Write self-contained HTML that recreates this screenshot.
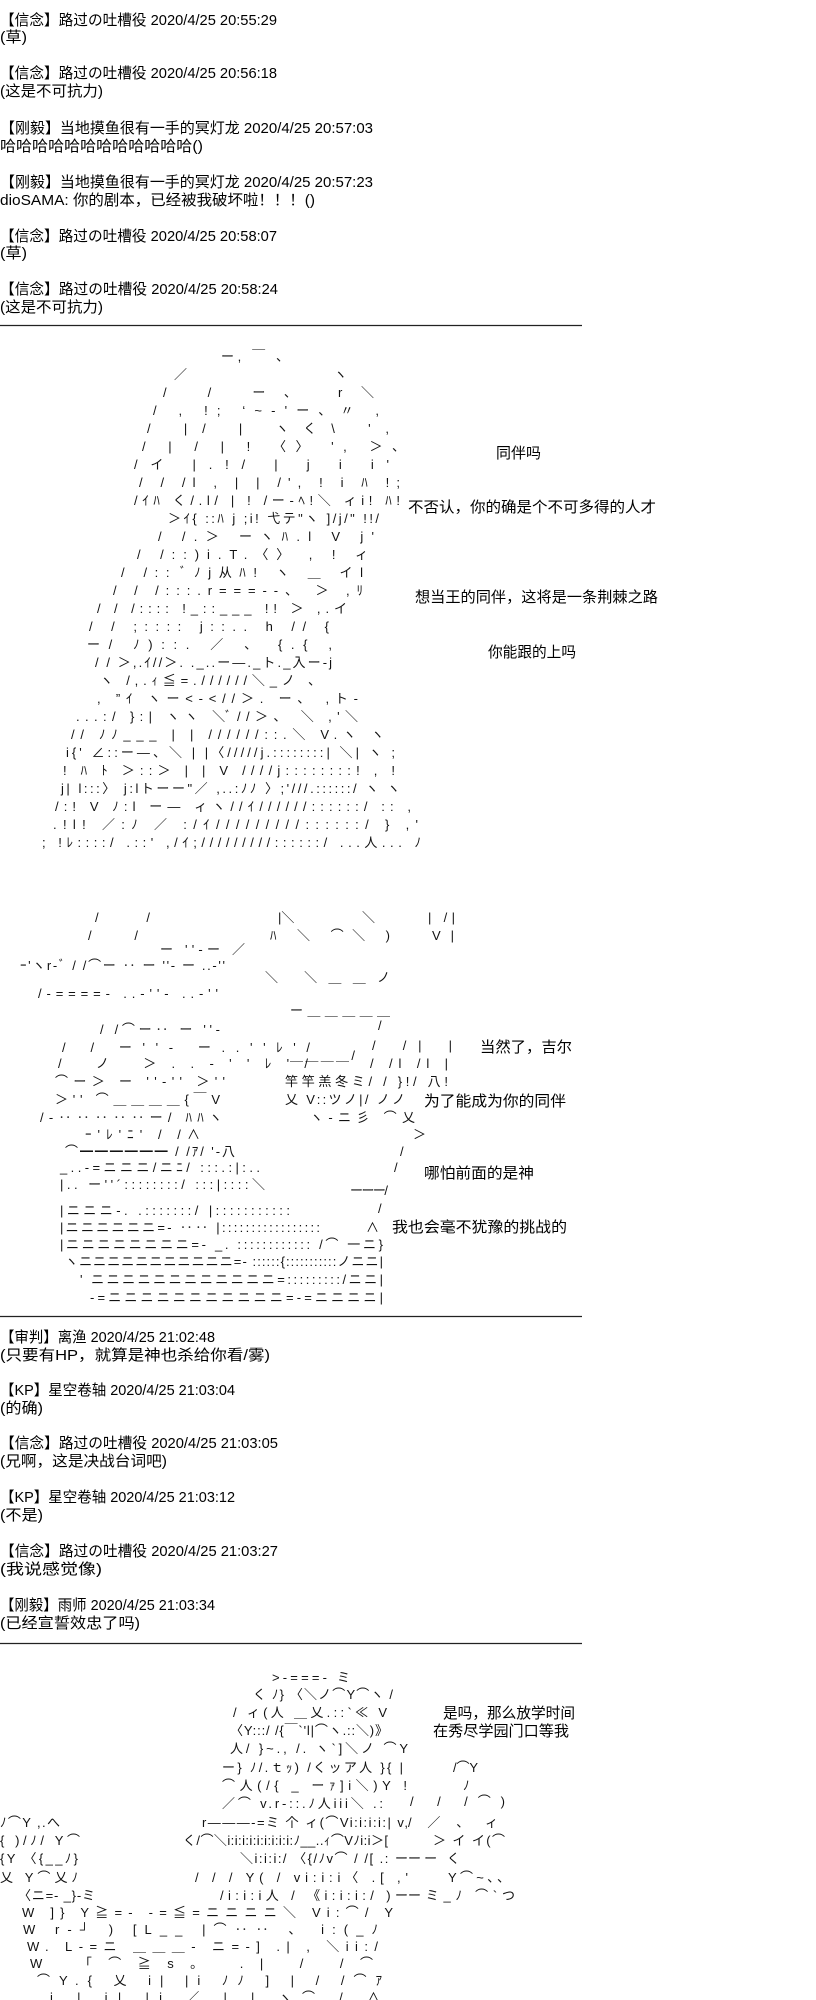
<!DOCTYPE html>
<html><head><meta charset="utf-8">
<style>
html,body{margin:0;padding:0;background:#fff;width:816px;height:2000px;overflow:hidden}
svg{display:block}
.t{font-family:"Liberation Sans","Noto Sans CJK SC",sans-serif;font-size:15px;fill:#000}
.a{font-family:"Liberation Sans","Noto Sans CJK JP",sans-serif;font-size:13px;fill:#111;white-space:pre}
</style></head><body>
<svg width="816" height="2000" viewBox="0 0 816 2000" xmlns="http://www.w3.org/2000/svg" xml:space="preserve">
<g class="t">
<text x="0" y="25" textLength="277" lengthAdjust="spacingAndGlyphs">【信念】路过の吐槽役 2020/4/25 20:55:29</text>
<text x="0" y="42" textLength="27" lengthAdjust="spacingAndGlyphs">(草)</text>
<text x="0" y="78" textLength="277" lengthAdjust="spacingAndGlyphs">【信念】路过の吐槽役 2020/4/25 20:56:18</text>
<text x="0" y="96" textLength="103" lengthAdjust="spacingAndGlyphs">(这是不可抗力)</text>
<text x="0" y="133" textLength="373" lengthAdjust="spacingAndGlyphs">【刚毅】当地摸鱼很有一手的冥灯龙 2020/4/25 20:57:03</text>
<text x="0" y="151" textLength="203" lengthAdjust="spacingAndGlyphs">哈哈哈哈哈哈哈哈哈哈哈哈()</text>
<text x="0" y="187" textLength="373" lengthAdjust="spacingAndGlyphs">【刚毅】当地摸鱼很有一手的冥灯龙 2020/4/25 20:57:23</text>
<text x="0" y="205" textLength="315" lengthAdjust="spacingAndGlyphs">dioSAMA: 你的剧本，已经被我破坏啦！！！()</text>
<text x="0" y="241" textLength="277" lengthAdjust="spacingAndGlyphs">【信念】路过の吐槽役 2020/4/25 20:58:07</text>
<text x="0" y="258" textLength="27" lengthAdjust="spacingAndGlyphs">(草)</text>
<text x="0" y="294" textLength="278" lengthAdjust="spacingAndGlyphs">【信念】路过の吐槽役 2020/4/25 20:58:24</text>
<text x="0" y="312" textLength="103" lengthAdjust="spacingAndGlyphs">(这是不可抗力)</text>

<text x="496" y="458">同伴吗</text>
<text x="408" y="512" textLength="248" lengthAdjust="spacingAndGlyphs">不否认，你的确是个不可多得的人才</text>
<text x="415" y="602" textLength="243" lengthAdjust="spacingAndGlyphs">想当王的同伴，这将是一条荆棘之路</text>
<text x="488" y="657" textLength="88" lengthAdjust="spacingAndGlyphs">你能跟的上吗</text>

<text x="480" y="1052" textLength="92" lengthAdjust="spacingAndGlyphs">当然了，吉尔</text>
<text x="424" y="1106" textLength="142" lengthAdjust="spacingAndGlyphs">为了能成为你的同伴</text>
<text x="424" y="1178" textLength="110" lengthAdjust="spacingAndGlyphs">哪怕前面的是神</text>
<text x="392" y="1232" textLength="175" lengthAdjust="spacingAndGlyphs">我也会毫不犹豫的挑战的</text>

<text x="0" y="1342" textLength="215" lengthAdjust="spacingAndGlyphs">【审判】离渔 2020/4/25 21:02:48</text>
<text x="0" y="1360" textLength="270" lengthAdjust="spacingAndGlyphs">(只要有HP，就算是神也杀给你看/雾)</text>
<text x="0" y="1395" textLength="235" lengthAdjust="spacingAndGlyphs">【KP】星空卷轴 2020/4/25 21:03:04</text>
<text x="0" y="1413" textLength="43" lengthAdjust="spacingAndGlyphs">(的确)</text>
<text x="0" y="1448" textLength="278" lengthAdjust="spacingAndGlyphs">【信念】路过の吐槽役 2020/4/25 21:03:05</text>
<text x="0" y="1466" textLength="167" lengthAdjust="spacingAndGlyphs">(兄啊，这是决战台词吧)</text>
<text x="0" y="1502" textLength="235" lengthAdjust="spacingAndGlyphs">【KP】星空卷轴 2020/4/25 21:03:12</text>
<text x="0" y="1520" textLength="43" lengthAdjust="spacingAndGlyphs">(不是)</text>
<text x="0" y="1556" textLength="278" lengthAdjust="spacingAndGlyphs">【信念】路过の吐槽役 2020/4/25 21:03:27</text>
<text x="0" y="1574" textLength="102" lengthAdjust="spacingAndGlyphs">(我说感觉像)</text>
<text x="0" y="1610" textLength="215" lengthAdjust="spacingAndGlyphs">【刚毅】雨师 2020/4/25 21:03:34</text>
<text x="0" y="1628" textLength="140" lengthAdjust="spacingAndGlyphs">(已经宣誓效忠了吗)</text>

<text x="443" y="1718" textLength="132" lengthAdjust="spacingAndGlyphs">是吗，那么放学时间</text>
<text x="433" y="1736" textLength="136" lengthAdjust="spacingAndGlyphs">在秀尽学园门口等我</text>
</g>

<g stroke="#222" stroke-width="1.2">
<line x1="0" y1="325.5" x2="582" y2="325.5"/>
<line x1="0" y1="1316.5" x2="582" y2="1316.5"/>
<line x1="0" y1="1643.5" x2="582" y2="1643.5"/>
</g>

<!-- ART 1 -->
<g class="a">
<text x="221" y="361" textLength="68" lengthAdjust="spacing">ー, ￣ 、</text>
<text x="174" y="379" textLength="173" lengthAdjust="spacing">／                          ヽ</text>
<text x="163" y="397" textLength="211" lengthAdjust="spacing">/    /            ー、      r＼</text>
<text x="153" y="415" textLength="226" lengthAdjust="spacing">/      ,    !;        ‘~-'ー、〃   ,</text>
<text x="147" y="433" textLength="242" lengthAdjust="spacing">/         |/   |        ヽく\   ',</text>
<text x="142" y="451" textLength="263" lengthAdjust="spacing">/    |   /    |   !     〈〉 ',  ＞、</text>
<text x="134" y="469" textLength="255" lengthAdjust="spacing">/イ    |.!/     |    j        i  i'</text>
<text x="139" y="487" textLength="261" lengthAdjust="spacing">/ /   /l ,  |  | /', ! i     ﾊ  !;</text>
<text x="134" y="505" textLength="266" lengthAdjust="spacing">/ｲﾊ  く/.l/   |  ! /ー-ﾍ!＼   ィi! ﾊ!</text>
<text x="168" y="523" textLength="211" lengthAdjust="spacing">＞ｲ{ ::ﾊ  j ;i! 弋テ"ヽ  ]/j/" !!/</text>
<text x="158" y="541" textLength="216" lengthAdjust="spacing">/  /.＞ ーヽﾊ.l V              j'</text>
<text x="137" y="559" textLength="231" lengthAdjust="spacing">/   /::)i.T.〈〉 , !               ィ</text>
<text x="121" y="577" textLength="242" lengthAdjust="spacing">/   /::  ﾞﾉj从ﾊ!  ヽ      ＿    イl</text>
<text x="113" y="595" textLength="250" lengthAdjust="spacing">/  /  /:::.r===--、 ＞          ,ﾘ</text>
<text x="97" y="613" textLength="250" lengthAdjust="spacing">/  /   /::::  !_::___  !!    ＞ ,.イ</text>
<text x="89" y="631" textLength="240" lengthAdjust="spacing">/  /   ;::::    j::..     h     //  {</text>
<text x="87" y="649" textLength="245" lengthAdjust="spacing">ー/   ﾉ)::.   ／        、   {.{    ,</text>
<text x="95" y="667" textLength="237" lengthAdjust="spacing">/   / ＞,.ｲ//＞. ._..ー―._ト._入ー-j</text>
<text x="100" y="685" textLength="221" lengthAdjust="spacing">ヽ /,.ｨ≦=.//////＼_ノ           、</text>
<text x="97" y="703" textLength="261" lengthAdjust="spacing">,  ”ｲ       ヽー&lt;-&lt;//＞. ー、   ,ト-</text>
<text x="76" y="721" textLength="282" lengthAdjust="spacing">...:/   }:|          ヽヽ ＼ﾞ//＞、  ＼ ,'＼</text>
<text x="71" y="739" textLength="313" lengthAdjust="spacing">//    ﾉﾉ___         | | //////::.＼   V.ヽ  ヽ</text>
<text x="66" y="757" textLength="329" lengthAdjust="spacing">i{'   ∠::ー―、＼      | |〈/////j.::::::::| ＼|  ヽ  ;</text>
<text x="63" y="775" textLength="332" lengthAdjust="spacing">! ﾊ  ﾄ     ＞::＞   | | V ////j::::::::!      ,  !</text>
<text x="61" y="793" textLength="339" lengthAdjust="spacing">j| l:::〉 j:lトーー"／  ,..:ﾉﾉ  〉;'///.::::::/    ヽ  ヽ</text>
<text x="55" y="811" textLength="356" lengthAdjust="spacing">/:!  V  ﾉ:l    ー―  ィヽ//ｲ//////::::::/       ::  ,</text>
<text x="53" y="829" textLength="365" lengthAdjust="spacing">.!l!  ／:ﾉ        ／ :/ｲ/////////::::::/         }  ,'</text>
<text x="42" y="847" textLength="379" lengthAdjust="spacing">; !ﾚ::::/   .::'   ,/ｲ;/////////::::::/      ...人...  ﾉ</text>
</g>

<!-- ART 2 -->
<g class="a">
<text x="95" y="922" textLength="55" lengthAdjust="spacing">/      /</text>
<text x="278" y="922">|＼</text>
<text x="362" y="922">＼</text>
<text x="428" y="922" textLength="27" lengthAdjust="spacing">| /|</text>
<text x="88" y="940" textLength="50" lengthAdjust="spacing">/     /</text>
<text x="270" y="940" textLength="120" lengthAdjust="spacing">ﾊ  ＼  ⌒＼   )</text>
<text x="432" y="940" textLength="22" lengthAdjust="spacing">V |</text>
<text x="160" y="954" textLength="85" lengthAdjust="spacing">ー ''‐ー ／</text>
<text x="20" y="970" textLength="205" lengthAdjust="spacing">ｰ'ヽr‐ﾞ  /  /⌒ー ‥   ー ''‐ ー ..-''</text>
<text x="265" y="982" textLength="125" lengthAdjust="spacing">＼   ＼＿＿ノ</text>
<text x="38" y="998" textLength="180" lengthAdjust="spacing">/-====-       ..-''‐ ..-''</text>
<text x="290" y="1015" textLength="100" lengthAdjust="spacing">ー＿＿＿＿＿</text>
<text x="100" y="1034" textLength="120" lengthAdjust="spacing">/  /⌒ー‥   ー ''‐</text>
<text x="378" y="1030">/</text>
<text x="62" y="1052" textLength="248" lengthAdjust="spacing">/      /     ー''‐ ー..''ﾚ'/</text>
<text x="372" y="1050" textLength="80" lengthAdjust="spacing">/ /|    |</text>
<text x="58" y="1068" textLength="250" lengthAdjust="spacing">/              ノ  ＞..-''ﾚ'/</text>
<text x="290" y="1060" textLength="65" lengthAdjust="spacing">＿＿＿＿/</text>
<text x="370" y="1068" textLength="78" lengthAdjust="spacing">/ /l  /l |</text>
<text x="55" y="1086" textLength="170" lengthAdjust="spacing">⌒ー＞    ー ''‐'' ＞''</text>
<text x="285" y="1086" textLength="163" lengthAdjust="spacing">竿竿羔冬ミ/ /  }!/  八!</text>
<text x="55" y="1104" textLength="165" lengthAdjust="spacing">＞''  ⌒＿＿＿＿{￣V</text>
<text x="285" y="1104" textLength="120" lengthAdjust="spacing">乂 V::ツノ|/  ノノ</text>
<text x="40" y="1122" textLength="182" lengthAdjust="spacing">/‐‥‥‥‥‥ー/      ﾊﾊヽ</text>
<text x="310" y="1122" textLength="105" lengthAdjust="spacing">ヽ-ニ彡       ⌒乂</text>
<text x="85" y="1139" textLength="115" lengthAdjust="spacing">ｰ'ﾚ'ﾆ'     /  /∧</text>
<text x="413" y="1139">＞</text>
<text x="65" y="1156" textLength="170" lengthAdjust="spacing">⌒━━━━━━ / /ｱ/   '-八</text>
<text x="400" y="1156">/</text>
<text x="60" y="1172" textLength="200" lengthAdjust="spacing">_..-=ニニニ/ニﾆ/      :::.:|:..</text>
<text x="394" y="1172">/</text>
<text x="60" y="1189" textLength="205" lengthAdjust="spacing">|..   ー''´::::::::/      :::|::::＼</text>
<text x="350" y="1195" textLength="38" lengthAdjust="spacing">ーーー/</text>
<text x="60" y="1215" textLength="230" lengthAdjust="spacing">|ニニニ-. .:::::::/         |:::::::::::</text>
<text x="378" y="1213">/</text>
<text x="60" y="1232" textLength="260" lengthAdjust="spacing">|ニニニニニニ=-   ‥‥     |:::::::::::::::::</text>
<text x="366" y="1232">∧</text>
<text x="60" y="1249" textLength="323" lengthAdjust="spacing">|ニニニニニニニニ=-   _.   ::::::::::::  /⌒ 一ニ}</text>
<text x="65" y="1266" textLength="318" lengthAdjust="spacing">ヽニニニニニニニニニニニ=- ::::::{:::::::::::ノニニ|</text>
<text x="80" y="1284" textLength="303" lengthAdjust="spacing">' ニニニニニニニニニニニニ=:::::::::/ニニ|</text>
<text x="90" y="1302" textLength="293" lengthAdjust="spacing">-=ニニニニニニニニニニニ=-=ニニニニ|</text>
</g>

<!-- ART 3 -->
<g class="a">
<text x="272" y="1682" textLength="78" lengthAdjust="spacing">&gt;-===-  ミ</text>
<text x="253" y="1699" textLength="140" lengthAdjust="spacing">く  ﾉ}   〈＼ノ⌒Y⌒ヽ  /</text>
<text x="233" y="1717" textLength="154" lengthAdjust="spacing">/   ィ(人 ＿乂.::`≪   V</text>
<text x="230" y="1735" textLength="158" lengthAdjust="spacing">〈Y:::/   /{￣`'l|⌒ヽ.::＼)》</text>
<text x="230" y="1753" textLength="178" lengthAdjust="spacing">人/   }~.,     /.  ヽ`]＼ノ   ⌒Y</text>
<text x="222" y="1772" textLength="181" lengthAdjust="spacing">ー}   ﾉ/.ｔｯ)  /くッア人   }{   |</text>
<text x="453" y="1772" textLength="25" lengthAdjust="spacing">/⌒Y</text>
<text x="222" y="1790" textLength="185" lengthAdjust="spacing">⌒人(/{     _     ーｧ]i＼)Y      !</text>
<text x="463" y="1790">ﾉ</text>
<text x="222" y="1808" textLength="161" lengthAdjust="spacing">／⌒        v.r‐::.ﾉ人iii＼  .:</text>
<text x="410" y="1806" textLength="95" lengthAdjust="spacing">/  /    /⌒)</text>
<text x="0" y="1827" textLength="60" lengthAdjust="spacing">ﾉ⌒Y    ,.へ</text>
<text x="202" y="1827" textLength="206" lengthAdjust="spacing">r―――-=ミ  个     ィ(⌒Vi:i:i:i:|  v,</text>
<text x="408" y="1827" textLength="90" lengthAdjust="spacing">/  ／  、  ィ</text>
<text x="0" y="1845" textLength="80" lengthAdjust="spacing">{  )/ﾉ/  Y⌒</text>
<text x="183" y="1845" textLength="205" lengthAdjust="spacing">く/⌒＼i:i:i:i:i:i:i:i:i:ﾉ__..ｨ⌒Vﾉi:i＞[</text>
<text x="433" y="1845" textLength="72" lengthAdjust="spacing">＞ イ   イ(⌒</text>
<text x="0" y="1863" textLength="78" lengthAdjust="spacing">{Y  〈{__ﾉ}</text>
<text x="240" y="1863" textLength="168" lengthAdjust="spacing">＼i:i:i:/  〈{/ﾉv⌒  /  /[   .: ー</text>
<text x="408" y="1863" textLength="52" lengthAdjust="spacing">ーー   く</text>
<text x="0" y="1882" textLength="78" lengthAdjust="spacing">乂  Y⌒乂ﾉ</text>
<text x="195" y="1882" textLength="213" lengthAdjust="spacing">/  /  /  Y(    /     vi:i:i〈  .[ ,'</text>
<text x="448" y="1882" textLength="62" lengthAdjust="spacing">Y⌒~、、</text>
<text x="18" y="1900" textLength="77" lengthAdjust="spacing">〈ニ=-     _}-ミ</text>
<text x="220" y="1900" textLength="188" lengthAdjust="spacing">/i:i:i人    /      《i:i:i:/      )ー</text>
<text x="408" y="1900" textLength="107" lengthAdjust="spacing">ーミ_ﾉ   ⌒`つ</text>
<text x="22" y="1917" textLength="371" lengthAdjust="spacing">W           ]} Y≧=-      -=≦=ニニニニ＼          Vi:⌒/  Y</text>
<text x="23" y="1934" textLength="355" lengthAdjust="spacing">W         r‐┘ )           [L__            |⌒‥‥   、  i:(_ﾉ</text>
<text x="27" y="1951" textLength="351" lengthAdjust="spacing">W.        L‐=ニ       ＿＿＿-     ニ=-]          .|       ,  ＼ii:/</text>
<text x="30" y="1968" textLength="343" lengthAdjust="spacing">W      「⌒≧s。                                     .|      /    /⌒</text>
<text x="37" y="1985" textLength="345" lengthAdjust="spacing">⌒Y.{       乂    i|    |i  ﾉﾉ          ]           |    /  /⌒ｱ</text>
<text x="50" y="2002" textLength="330" lengthAdjust="spacing">i.|             i|    |i ／              |           |   ヽ⌒ /  ∧</text>
</g>
</svg>
</body></html>
